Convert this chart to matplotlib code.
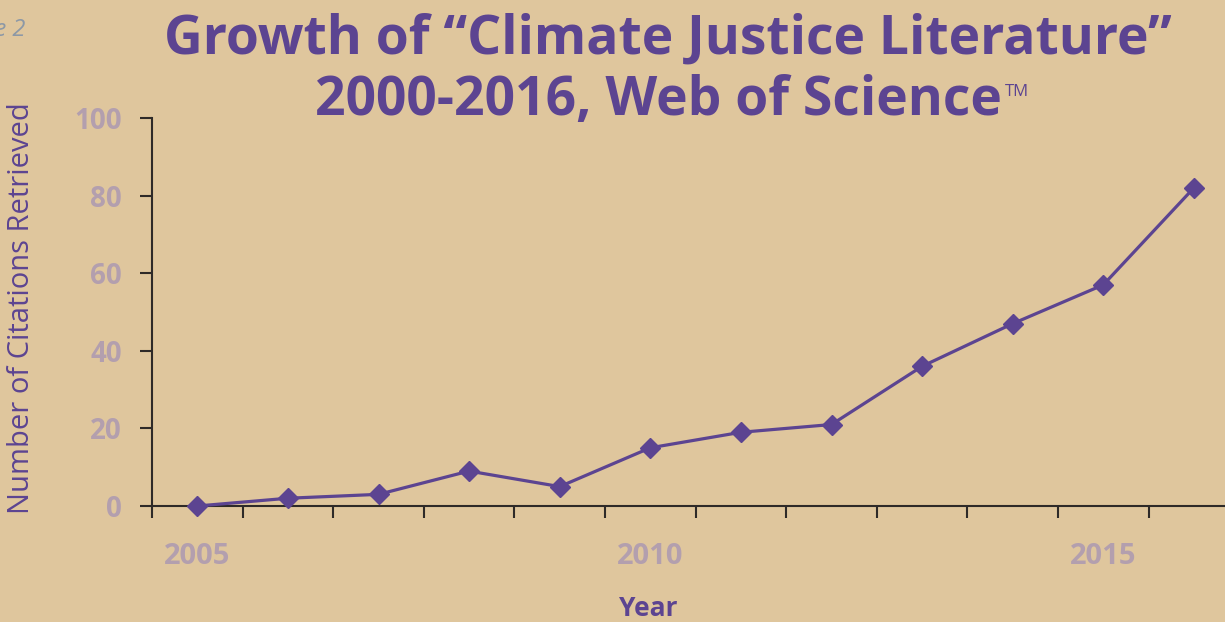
import numpy as np
import matplotlib.pyplot as plt

# Данные
years = [2005, 2006, 2007, 2008, 2009, 2010, 2011, 2012, 2013, 2014, 2015, 2016]
citations = [0, 2, 3, 9, 5, 15, 19, 21, 36, 47, 57, 82]
label_years = [2005, 2010, 2015]
y_ticks = [0, 20, 40, 60, 80, 100]

purple = '#5c4491'
tick_col = '#b39fae'
bg = '#dfc69d'

plt.rcParams['font.family'] = ['Open Sans', 'DejaVu Sans']

fig = plt.figure(figsize=(12.25, 6.22), dpi=100)
fig.patch.set_facecolor(bg)
ax = fig.add_axes([152 / 1225, 1 - 506 / 622, 1 - 152 / 1225, (506 - 118) / 622])
ax.set_facecolor('none')

x = np.arange(len(years))
ax.plot(x, citations, color=purple, linewidth=2.3, marker='D', markersize=10,
        markeredgecolor=purple, markerfacecolor=purple, clip_on=False, zorder=5)

for s in ['top', 'right']:
    ax.spines[s].set_visible(False)
for s in ['left', 'bottom']:
    ax.spines[s].set_color('#2e2a28')
    ax.spines[s].set_linewidth(1.5)

# деления между категориями, подписи только для некоторых лет
ax.set_xticks(np.arange(-0.5, len(years), 1.0))
ax.set_xticklabels([])
ax.set_xticks([years.index(y) for y in label_years], minor=True)
ax.set_xticklabels([str(y) for y in label_years], minor=True)
ax.tick_params(axis='x', which='major', direction='out', length=8.5, width=1.5, color='#2e2a28')
ax.tick_params(axis='x', which='minor', length=0, pad=26, labelsize=21, labelcolor=tick_col)

ax.set_yticks(y_ticks)
ax.tick_params(axis='y', direction='out', length=8.5, width=1.5, color='#2e2a28',
               pad=13, labelsize=20, labelcolor=tick_col)
for lab in ax.get_xticklabels(minor=True) + ax.get_yticklabels():
    lab.set_fontweight('bold')

# пределы после set_xticks, иначе они расширяются
ax.set_xlim(-0.5, -0.5 + (1225 - 152) / 90.6)
ax.set_ylim(0, 100)

# подписи
fig.text(22 / 1225, 1 - 308 / 622, 'Number of Citations Retrieved', rotation=90,
         ha='center', va='center', fontsize=21, color=purple)
fig.text(648 / 1225, 1 - 609 / 622, 'Year', ha='center', va='center',
         fontsize=19, fontweight='bold', color=purple)

# заголовок
fig.text(668 / 1225, 1 - 40 / 622, 'Growth of \u201cClimate Justice Literature\u201d',
         ha='center', va='center', fontsize=38.5, fontweight='bold', color=purple)
t2 = fig.text(658 / 1225, 1 - 101 / 622, '2000-2016, Web of Science',
              ha='center', va='center', fontsize=38.5, fontweight='bold', color=purple)
fig.canvas.draw()
bb = t2.get_window_extent()
fig.text((bb.x1 + 3) / 1225, 1 - 100 / 622, 'TM', ha='left', va='bottom',
         fontsize=12, color=purple)

fig.text(25 / 1225, 1 - 30 / 622, 'Figure 2', ha='right', va='center',
         fontsize=17, style='italic', color='#8c98a6')

fig.savefig('out.png', dpi=100, facecolor=bg)
